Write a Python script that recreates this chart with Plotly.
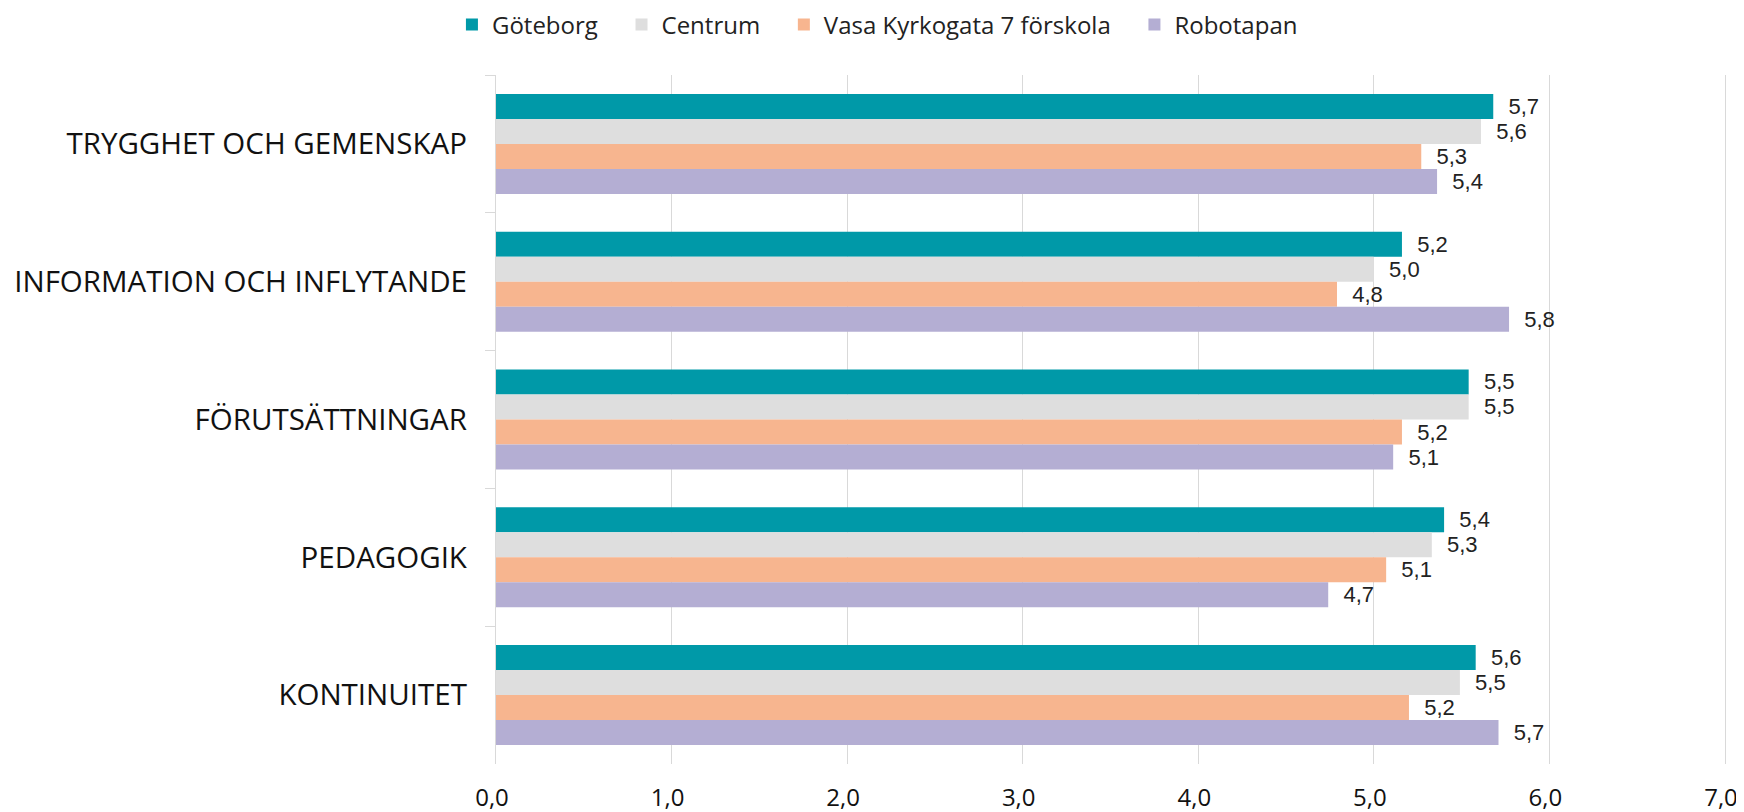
import plotly.graph_objects as go

categories = ["TRYGGHET OCH GEMENSKAP", "INFORMATION OCH INFLYTANDE", "FÖRUTSÄTTNINGAR", "PEDAGOGIK", "KONTINUITET"]
series_names = ["Göteborg", "Centrum", "Vasa Kyrkogata 7 förskola", "Robotapan"]
goteborg = [5.68, 5.16, 5.54, 5.40, 5.58]
centrum = [5.61, 5.00, 5.54, 5.33, 5.49]
vasa = [5.27, 4.79, 5.16, 5.07, 5.20]
robotapan = [5.36, 5.77, 5.11, 4.74, 5.71]
colors = ["#0099A8", "#DEDEDE", "#F7B58F", "#B4AED3"]
x_ticks = [0, 1, 2, 3, 4, 5, 6, 7]
x_ticktext = ["0,0", "1,0", "2,0", "3,0", "4,0", "5,0", "6,0", "7,0"]

fig = go.Figure()
for name, vals, col in zip(series_names, [goteborg, centrum, vasa, robotapan], colors):
    fig.add_trace(go.Bar(
        y=categories, x=vals, name=name + "\u00a0\u00a0\u00a0", orientation="h",
        marker=dict(color=col, line=dict(width=0)),
        texttemplate="\u00a0\u00a0%{x:.1f}", textposition="outside",
        textfont=dict(family="Liberation Sans, Arial", size=22, color="#222222"),
        cliponaxis=False,
    ))

# page has an 8px body margin, so the figure is 8px smaller and margins are shifted
fig.update_layout(
    width=1736, height=804,
    separators=", ",
    barmode="group", bargap=0.274, bargroupgap=0,
    plot_bgcolor="white", paper_bgcolor="white",
    margin=dict(l=488, r=19, t=67, b=48, autoexpand=False),
    legend=dict(orientation="h", xref="container", yref="container", x=0.5063, y=0.979,
                xanchor="center", yanchor="middle",
                font=dict(family="Open Sans", size=24, color="#222222"),
                traceorder="normal", itemwidth=30),
    xaxis=dict(range=[0, 7], tickvals=x_ticks, ticktext=x_ticktext,
               showgrid=True, gridcolor="#D9D9D9", gridwidth=1.3,
               zeroline=False, showline=False, ticks="", automargin=False,
               tickfont=dict(family="Open Sans", size=24, color="#111111"),
               ticklabelstandoff=17, ticklabelshift=-4, ticklabeloverflow="allow",
               fixedrange=True),
    yaxis=dict(autorange="reversed", showline=True, mirror=True, linecolor="#D9D9D9", linewidth=1.3,
               ticks="outside", tickson="boundaries", ticklen=10, tickcolor="#D9D9D9",
               automargin=False,
               tickfont=dict(family="Open Sans", size=29.5, color="#111111"),
               ticklabelstandoff=22, showgrid=False),
)

fig.write_html("out.html")
